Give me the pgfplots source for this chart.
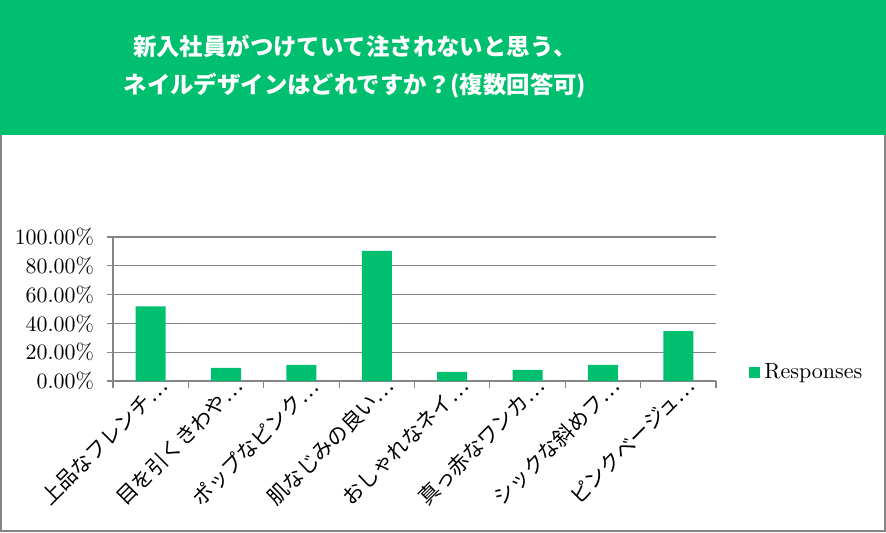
\documentclass[border=0pt]{standalone}
\usepackage{pgfplots}
\pgfplotsset{compat=1.18}
\usepackage{fontspec}
\setmainfont{Latin Modern Roman}
\newfontfamily\lmr{Latin Modern Roman}
\newfontfamily\jp{Noto Sans CJK JP}
\definecolor{smgreen}{HTML}{00BF6F}
\definecolor{frame}{HTML}{868686}
\begin{document}
\begin{tikzpicture}
% page: 886x532 px at 0.5pt per px, origin top left
\path[use as bounding box] (0,0) rectangle (443pt,-266pt);
\draw[frame, line width=0.8pt] (0.4pt,-60pt) -- (0.4pt,-265.6pt) -- (442.6pt,-265.6pt) -- (442.6pt,-60pt);
\fill[smgreen] (0,0) rectangle (443pt,-67.5pt);
\node[text=white, align=center, font=\jp\bfseries\fontsize{11.7}{19}\selectfont]
  at (177.5pt,-33.5pt) {新入社員がつけていて注されないと思う、\\ネイルデザインはどれですか？(複数回答可)};
\begin{axis}[
    at={(56.5pt,-190.5pt)}, anchor=south west,
    scale only axis, width=301.5pt, height=72pt,
    ybar, bar width=15pt,
    xmin=-0.5, xmax=7.5, ymin=0, ymax=100,
    axis x line*=bottom, axis y line*=left,
    axis line style={-, frame, line width=0.6pt},
    ytick={0,20,...,100},
    yticklabel={\pgfmathprintnumber[fixed,fixed zerofill,precision=2]{\tick}\%},
    yticklabel style={font=\lmr\fontsize{11}{13}\selectfont, xshift=-3pt},
    ymajorgrids, grid style={frame, line width=0.6pt},
    xtick={0,...,7},
    xticklabels={上品なフレンチ…, 目を引くきわや…, ポップなピンク…, 肌なじみの良い…, おしゃれなネイ…, 真っ赤なワンカ…, シックな斜めフ…, ピンクベージュ…},
    xticklabel style={font=\jp\fontsize{10.4}{12}\selectfont, xshift=3pt, yshift=10.5pt, rotate=45, anchor=north east},
    major x tick style={draw=none},
    minor xtick={-0.5,0.5,...,7.5},
    minor x tick style={frame, line width=0.6pt},
    major y tick style={frame, line width=0.6pt},
    tick align=outside, major tick length=3pt, minor tick length=3.5pt,
    legend style={draw=none, fill=none, at={(1,0.056)}, anchor=west, xshift=13.5pt,
      font=\lmr\fontsize{11}{13}\selectfont, nodes={font=\lmr\fontsize{11}{13}\selectfont}},
    legend image code/.code={\fill[smgreen] (0pt,-2.75pt) rectangle (5.5pt,2.75pt);},
  ]
  \addplot[fill=smgreen, draw=none] coordinates {
    (0,51.8) (1,9.2) (2,11.2) (3,90.4) (4,6.4) (5,7.8) (6,11.2) (7,34.7)
  };
  \addlegendentry{Responses}
\end{axis}
\end{tikzpicture}
\end{document}
